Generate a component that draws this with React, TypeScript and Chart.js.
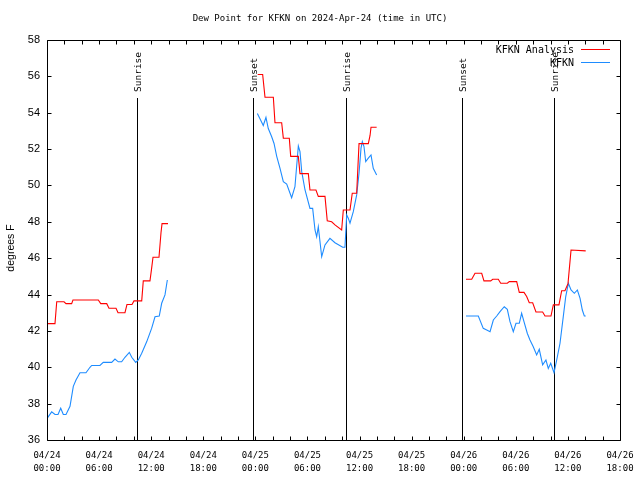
import React, { useEffect, useRef } from "react";
import { Chart, registerables } from "chart.js";

Chart.register(...registerables);

// Time axis: hours since 2024-04-24 00:00 UTC
const TITLE = "Dew Point for KFKN on 2024-Apr-24 (time in UTC)";
const Y_TITLE = "degrees F";
const X_MIN = 0;
const X_MAX = 66;
const Y_MIN = 36;
const Y_MAX = 58;
const X_LABEL_STEP = 6;
const X_MINOR_STEP = 2;
const Y_STEP = 2;

const SERIES_ANALYSIS = "KFKN Analysis";
const SERIES_OBS = "KFKN";

// KFKN Analysis (red) — null marks a data gap
const analysisTimes = [
  0.0, 0.92, 1.12, 1.96, 2.19, 2.84, 2.99, 5.91, 6.19, 6.88, 7.14, 7.95, 8.18, 8.98, 9.21, 9.79,
  10.02, 10.91, 11.09, 11.86, 12.04, 12.21, 12.9, 13.13, 13.25, 13.94,
  19.0,
  24.27, 24.84, 25.11, 26.07, 26.26, 27.03, 27.22, 27.91, 28.07, 28.95, 29.14, 30.1, 30.29, 30.98,
  31.25, 32.02, 32.28, 32.79, 33.17, 33.94, 34.13, 34.9, 35.16, 35.67, 35.94, 37.01, 37.21, 37.32, 37.97,
  43.0,
  48.26, 48.92, 49.3, 50.07, 50.33, 51.11, 51.34, 51.98, 52.26, 53.02, 53.25, 54.1, 54.4, 54.94,
  55.25, 55.55, 55.94, 56.32, 57.09, 57.36, 58.05, 58.32, 58.97, 59.28, 59.66, 60.01, 60.36, 62.05,
];
const analysisValues: (number | null)[] = [
  42.4, 42.4, 43.6, 43.6, 43.5, 43.5, 43.7, 43.7, 43.5, 43.5, 43.25, 43.25, 43.0, 43.0, 43.45, 43.45,
  43.65, 43.65, 44.75, 44.75, 45.4, 46.05, 46.05, 47.4, 47.9, 47.9,
  null,
  56.1, 56.1, 54.85, 54.85, 53.45, 53.45, 52.6, 52.6, 51.6, 51.6, 50.65, 50.65, 49.75, 49.75,
  49.4, 49.4, 48.05, 48.0, 47.83, 47.55, 48.65, 48.65, 49.57, 49.57, 52.3, 52.3, 52.75, 53.2, 53.2,
  null,
  44.84, 44.84, 45.17, 45.17, 44.75, 44.75, 44.84, 44.84, 44.62, 44.62, 44.71, 44.71, 44.12, 44.12,
  43.89, 43.55, 43.55, 43.04, 43.04, 42.82, 42.82, 43.43, 43.43, 44.21, 44.21, 44.6, 46.45, 46.4,
];

// KFKN observations (blue)
const obsTimes = [
  0.03, 0.54, 0.92, 1.27, 1.58, 1.88, 2.19, 2.65, 3.03, 3.34, 3.8, 4.49, 4.95, 5.15, 6.1, 6.48,
  7.45, 7.83, 8.21, 8.6, 8.98, 9.48, 9.76, 10.22, 10.52, 10.91, 11.48, 12.06, 12.44, 12.93, 13.21,
  13.59, 13.86,
  19.0,
  24.23, 24.46, 24.91, 25.22, 25.49, 25.88, 26.15, 26.46, 26.84, 27.22, 27.61, 28.18, 28.56, 28.95,
  29.14, 29.34, 29.72, 30.29, 30.6, 30.87, 31.06, 31.25, 31.64, 32.02, 32.59, 33.17, 34.06, 34.32,
  34.52, 34.7, 34.9, 35.28, 35.67, 35.94, 36.17, 36.32, 36.51, 36.71, 37.01, 37.32, 37.58, 37.97,
  43.0,
  48.26, 49.68, 50.25, 50.65, 51.03, 51.41, 51.8, 52.18, 52.67, 53.02, 53.33, 53.71, 54.02, 54.4,
  54.67, 54.94, 55.32, 55.63, 56.01, 56.4, 56.7, 57.09, 57.47, 57.74, 58.02, 58.4, 58.71, 59.09,
  59.47, 59.75, 60.05, 60.36, 60.74, 61.09, 61.4, 61.66, 61.89, 62.05,
];
const obsValues: (number | null)[] = [
  37.2, 37.55, 37.4, 37.4, 37.75, 37.4, 37.4, 37.85, 38.95, 39.3, 39.7, 39.7, 40.0, 40.1, 40.1, 40.27,
  40.27, 40.45, 40.3, 40.3, 40.55, 40.82, 40.55, 40.27, 40.4, 40.77, 41.4, 42.15, 42.78, 42.82, 43.52,
  43.98, 44.8,
  null,
  53.96, 53.74, 53.3, 53.74, 53.13, 52.68, 52.31, 51.6, 50.94, 50.21, 50.08, 49.33, 49.93, 52.17,
  51.86, 50.76, 49.75, 48.74, 48.74, 47.55, 47.18, 47.73, 46.08, 46.73, 47.09, 46.85, 46.6, 46.6,
  48.38, 48.2, 47.92, 48.56, 49.48, 50.67, 52.05, 52.41, 52.14, 51.31, 51.5, 51.68, 50.94, 50.58,
  null,
  42.82, 42.82, 42.14, 42.05, 41.96, 42.6, 42.82, 43.06, 43.33, 43.19, 42.51, 41.96, 42.42, 42.42,
  42.97, 42.51, 41.87, 41.5, 41.13, 40.68, 40.99, 40.13, 40.4, 39.94, 40.22, 39.7, 40.4, 41.32,
  42.8, 43.89, 44.62, 44.25, 44.07, 44.25, 43.79, 43.15, 42.82, 42.82,
];

// Sunrise / sunset markers
const sunTimes = [10.37, 23.73, 34.44, 47.8, 58.4];
const sunLabels = ["Sunrise", "Sunset", "Sunrise", "Sunset", "Sunrise"];

const RED = "#ff0000";
const BLUE = "#1e8cff";
const MONO = "'DejaVu Sans Mono', monospace";
const SANS = "'Liberation Sans', Arial, sans-serif";

function toPoints(times: number[], values: (number | null)[]) {
  return times.map((t, i) => ({ x: t, y: values[i] }));
}

function xTickLabel(v: number): string[] {
  const day = 24 + Math.floor(v / 24);
  const hh = Math.round(v % 24);
  return [`04/${day}`, `${String(hh).padStart(2, "0")}:00`];
}

const decorPlugin = {
  id: "decor",
  beforeDatasetsDraw(chart: any) {
    const { ctx, chartArea: a, scales } = chart;
    const xs = scales.x;
    ctx.save();
    ctx.strokeStyle = "#000";
    ctx.lineWidth = 1;
    ctx.fillStyle = "#000";
    ctx.font = `9.5px ${MONO}`;
    sunTimes.forEach((t, i) => {
      const px = Math.round(xs.getPixelForValue(t)) + 0.5;
      ctx.beginPath();
      ctx.moveTo(px, 98);
      ctx.lineTo(px, a.bottom);
      ctx.stroke();
      ctx.save();
      ctx.translate(px + 1, 92);
      ctx.rotate(-Math.PI / 2);
      ctx.textAlign = "left";
      ctx.textBaseline = "middle";
      ctx.fillText(sunLabels[i], 0, 0);
      ctx.restore();
    });
    ctx.restore();
  },
  afterDraw(chart: any) {
    const { ctx, chartArea: a, scales } = chart;
    const xs = scales.x;
    const ys = scales.y;
    ctx.save();
    ctx.strokeStyle = "#000";
    ctx.lineWidth = 1;
    const L = Math.round(a.left) + 0.5;
    const R = Math.round(a.right) + 0.5;
    const T = Math.round(a.top) + 0.5;
    const B = Math.round(a.bottom) + 0.5;
    ctx.beginPath();
    ctx.rect(L, T, R - L, B - T);
    ctx.stroke();
    ctx.beginPath();
    for (let v = X_MIN; v <= X_MAX; v += X_MINOR_STEP) {
      const px = Math.round(xs.getPixelForValue(v)) + 0.5;
      ctx.moveTo(px, B);
      ctx.lineTo(px, B - 4);
      ctx.moveTo(px, T);
      ctx.lineTo(px, T + 4);
    }
    for (let v = Y_MIN; v <= Y_MAX; v += Y_STEP) {
      const py = Math.round(ys.getPixelForValue(v)) + 0.5;
      ctx.moveTo(L, py);
      ctx.lineTo(L + 4, py);
      ctx.moveTo(R, py);
      ctx.lineTo(R - 4, py);
    }
    ctx.stroke();

    // title
    ctx.fillStyle = "#000";
    ctx.font = `9px ${MONO}`;
    ctx.textAlign = "center";
    ctx.textBaseline = "middle";
    ctx.fillText(TITLE, 320, 19);

    // y title
    ctx.save();
    ctx.font = `10.5px ${SANS}`;
    ctx.translate(11, 248);
    ctx.rotate(-Math.PI / 2);
    ctx.textAlign = "center";
    ctx.textBaseline = "middle";
    ctx.fillText(Y_TITLE, 0, 0);
    ctx.restore();

    // legend
    ctx.font = `10px ${MONO}`;
    ctx.textAlign = "right";
    ctx.textBaseline = "middle";
    const ds = chart.data.datasets;
    ds.forEach((d: any, i: number) => {
      const y = 50 + i * 13;
      ctx.fillStyle = "#000";
      ctx.fillText(d.label, 574, y);
      ctx.strokeStyle = d.borderColor;
      ctx.beginPath();
      ctx.moveTo(581, Math.round(y) - 0.5);
      ctx.lineTo(610, Math.round(y) - 0.5);
      ctx.stroke();
    });
    ctx.restore();
  },
};

export default function App() {
  const canvasRef = useRef<HTMLCanvasElement | null>(null);

  useEffect(() => {
    const canvas = canvasRef.current;
    if (!canvas) return;
    const chart = new Chart(canvas, {
      type: "line",
      data: {
        datasets: [
          {
            label: SERIES_ANALYSIS,
            data: toPoints(analysisTimes, analysisValues),
            borderColor: RED,
            backgroundColor: RED,
            borderWidth: 1.1,
            pointRadius: 0,
            tension: 0,
            spanGaps: false,
          },
          {
            label: SERIES_OBS,
            data: toPoints(obsTimes, obsValues),
            borderColor: BLUE,
            backgroundColor: BLUE,
            borderWidth: 1.1,
            pointRadius: 0,
            tension: 0,
            spanGaps: false,
          },
        ],
      },
      options: {
        animation: false,
        responsive: false,
        devicePixelRatio: 1,
        parsing: false as any,
        normalized: true,
        layout: { padding: { top: 40, right: 20, left: 0, bottom: 0 } },
        plugins: {
          legend: { display: false },
          tooltip: { enabled: false },
          title: { display: false },
        },
        scales: {
          x: {
            type: "linear",
            min: X_MIN,
            max: X_MAX,
            grid: { display: false, drawTicks: false },
            border: { display: false },
            afterFit: (s: any) => {
              s.height = 40;
              s.paddingLeft = 0;
              s.paddingRight = 0;
            },
            ticks: {
              stepSize: X_LABEL_STEP,
              autoSkip: false,
              maxRotation: 0,
              minRotation: 0,
              padding: 9,
              color: "#000",
              font: { family: MONO, size: 9, lineHeight: 1.45 },
              callback: (v: any) => xTickLabel(Number(v)),
            },
          },
          y: {
            type: "linear",
            min: Y_MIN,
            max: Y_MAX,
            grid: { display: false, drawTicks: false },
            border: { display: false },
            afterFit: (s: any) => {
              s.width = 47;
              s.paddingTop = 0;
              s.paddingBottom = 0;
            },
            ticks: {
              stepSize: Y_STEP,
              padding: 7,
              color: "#000",
              font: { family: SANS, size: 11 },
            },
          },
        },
      },
      plugins: [decorPlugin],
    } as any);
    return () => chart.destroy();
  }, []);

  return (
    <div style={{ position: "fixed", left: 0, top: 0, width: 640, height: 480, background: "#fff" }}>
      <canvas ref={canvasRef} width={640} height={480} />
    </div>
  );
}
